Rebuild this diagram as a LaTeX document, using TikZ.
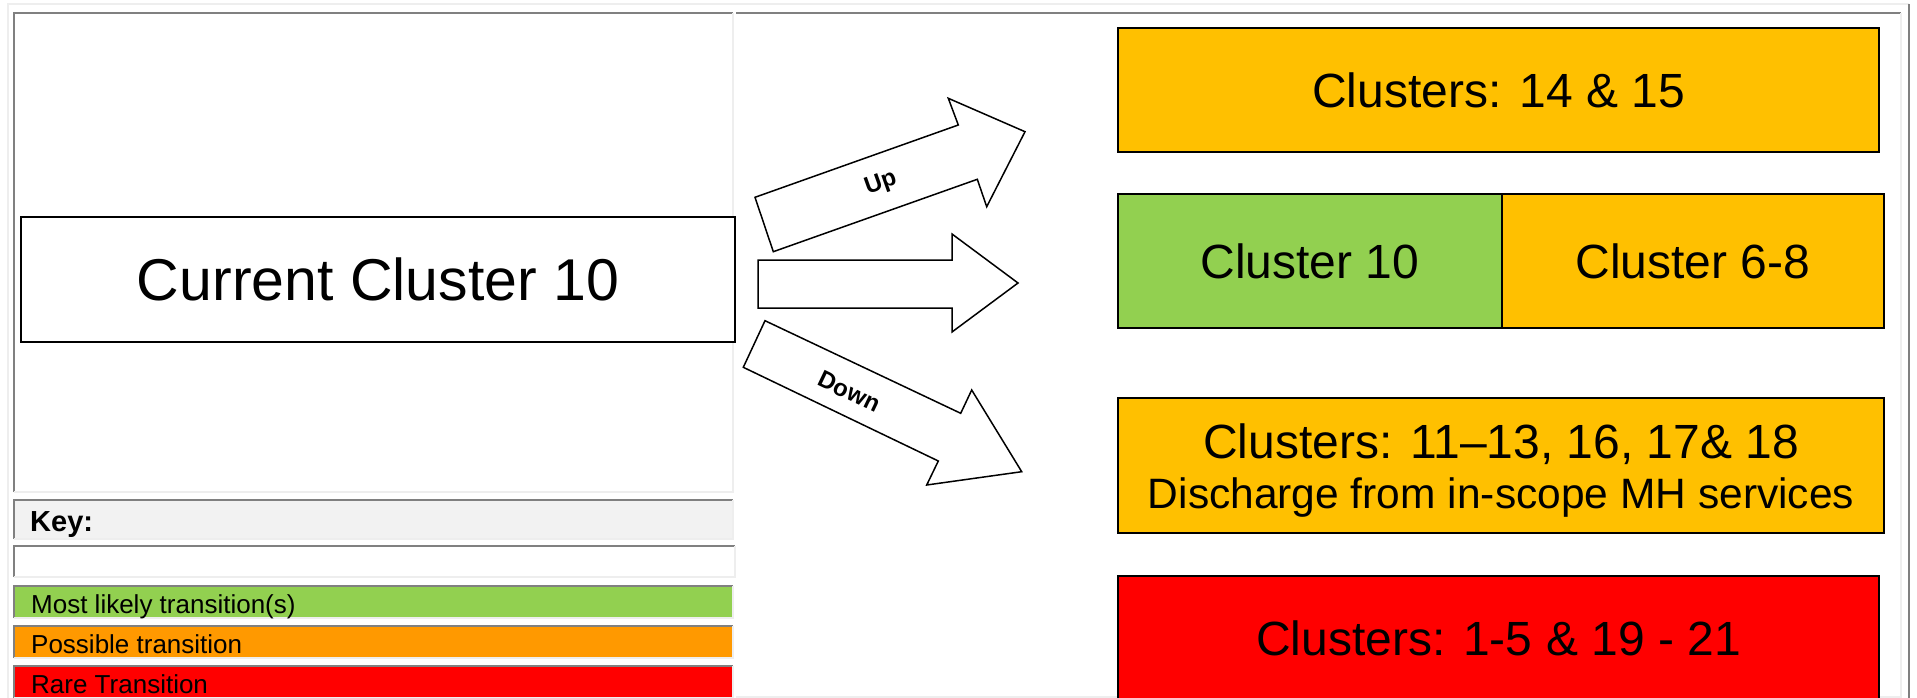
\documentclass[tikz,border=0pt]{standalone}
\usepackage{fontspec}
\setmainfont{Liberation Sans}
\usepackage{tikz}
\usepackage{xcolor}
\usetikzlibrary{positioning}
\definecolor{clusteryellow}{HTML}{FFC000}
\definecolor{clustergreen}{HTML}{92D050}
\definecolor{clusterred}{HTML}{FF0000}
\definecolor{keyorange}{HTML}{FF9900}
\definecolor{keygrey}{HTML}{F2F2F2}
\definecolor{celldark}{HTML}{808080}
\definecolor{celllight}{HTML}{EEEEEE}
\tikzset{cellbox/.style={draw=black, line width=1.5pt, inner sep=0pt, outer sep=0pt, anchor=north west},
 blockarrow/.style={draw=black, line width=1.5pt, fill=white, line join=miter},
 darkedge/.style={draw=celldark, line width=2pt},
 lightedge/.style={draw=celllight, line width=2pt},
 keytext/.style={anchor=base west, inner sep=0pt, font=\fontsize{26}{30}\selectfont},
 bigtext/.style={font=\fontsize{48}{52}\selectfont},
 subtext/.style={font=\fontsize{42.5}{46}\selectfont},
 arrowlabel/.style={font=\bfseries\fontsize{24}{28}\selectfont, inner sep=0pt},
 }

\begin{document}
\begin{tikzpicture}[x=1pt, y=-1pt]
        \useasboundingbox (0,0) rectangle (1917,698);
        % outer table frame
        \draw[lightedge] (7.5,710) -- (7.5,4) -- (1909,4);
        \draw[darkedge] (1909,4) -- (1909,710);
        % upper left cell and right cell
        \draw[darkedge] (14,492) -- (14,13) -- (733,13);
        \draw[lightedge] (733,13) -- (733,492) -- (14,492);
        \draw[darkedge] (736,13) -- (1901,13);
        \draw[lightedge] (1901,13) -- (1901,697) -- (736,697);
        % key rows
        \fill[keygrey] (14,500) rectangle (733,539);
        \draw[darkedge] (14,539) -- (14,500) -- (733,500);
        \draw[lightedge] (733,500) -- (733,539) -- (14,539);
        \node[keytext, font=\bfseries\fontsize{29}{32}\selectfont] (key) at (30,531) {Key:};
        \draw[darkedge] (14,577) -- (14,546) -- (735,546);
        \draw[lightedge] (735,546) -- (735,577) -- (14,577);
        \foreach \ytop/\ybot/\col/\txt in {586/618/clustergreen/Most likely transition(s),
                626/658/keyorange/Possible transition, 666/698/clusterred/Rare Transition} {
            \fill[\col] (14,\ytop) rectangle (733,\ybot);
            \draw[darkedge] (14,\ybot) -- (14,\ytop) -- (733,\ytop);
            \draw[lightedge] (733,\ytop) -- (733,\ybot) -- (14,\ybot);
            \node[keytext] (key-\col) at (31,\ybot-5) {\txt};
        }
        % current cluster
        \node[cellbox, fill=white, minimum width=714, minimum height=125,
            font=\fontsize{59}{63}\selectfont] (current) at (21,217) {Current Cluster 10};
        % transition arrows
        \draw[blockarrow] (773.3,251.7) -- (755,197.3) -- (958.3,125) -- (948.3,98.3)
            -- (1025,131.7) -- (986.7,206.7) -- (977.3,179.3) -- cycle;
        \draw[blockarrow] (758,260) -- (952,260) -- (952,234) -- (1018,283)
            -- (952,332) -- (952,308) -- (758,308) -- cycle;
        \draw[blockarrow] (765,320.7) -- (743.3,367.3) -- (938.3,461) -- (926.7,485)
            -- (1021.7,471.7) -- (971.7,390) -- (960.7,413.3) -- cycle;
        \node[arrowlabel, rotate=19.6] (uplabel) at (881,184) {Up};
        \node[arrowlabel, rotate=-25.6] (downlabel) at (849.3,391.7) {Down};
        % target clusters
        \node[cellbox, bigtext, fill=clusteryellow, minimum width=761, minimum height=124] (up) at (1118,28) {Clusters: 14 \& 15};
        \node[cellbox, bigtext, fill=clustergreen, minimum width=384, minimum height=134] (same) at (1118,194) {Cluster 10};
        \node[cellbox, bigtext, fill=clusteryellow, minimum width=382, minimum height=134, right=0pt of same] (sameup) {Cluster 6-8};
        \node[cellbox, fill=clusteryellow, minimum width=766, minimum height=135] (down) at (1118,398) {};
        \node[bigtext, anchor=base, inner sep=0pt] (downtop) at ([yshift=7.5pt]down.center) {Clusters: 11–13, 16, 17\& 18};
        \node[subtext, anchor=base, inner sep=0pt] (downsub) at ([yshift=-42.5pt]down.center) {Discharge from in-scope MH services};
        \node[cellbox, bigtext, fill=clusterred, minimum width=761, minimum height=124] (rare) at (1118,576) {Clusters: 1-5 \& 19 - 21};
    \end{tikzpicture}
\end{document}
